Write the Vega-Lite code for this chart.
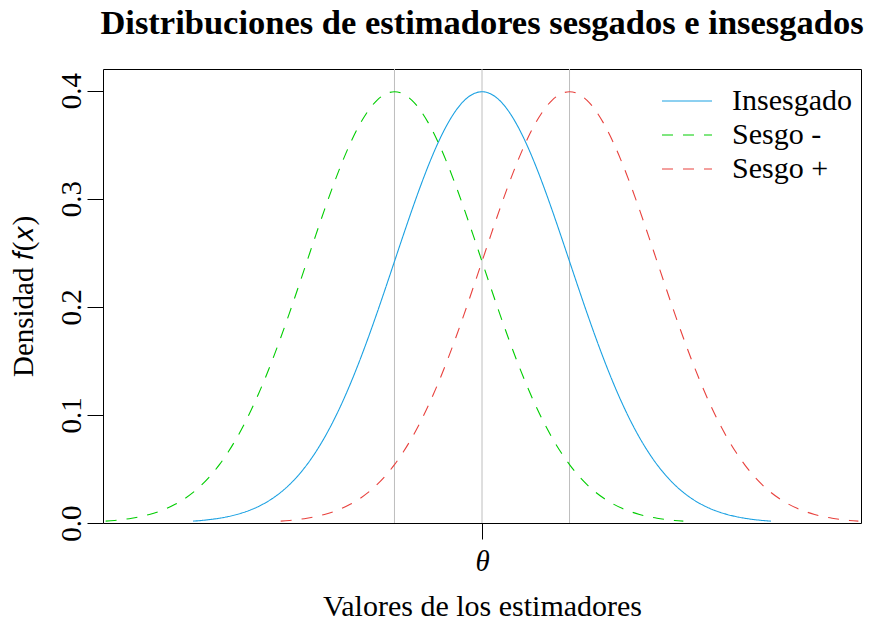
{
  "$schema": "https://vega.github.io/schema/vega-lite/v6.json",
  "width": 758,
  "height": 454,
  "autosize": {"type": "none"},
  "padding": {"left": 103, "top": 69, "right": 21, "bottom": 98},
  "background": "white",
  "config": {
    "font": "Liberation Serif",
    "view": {"stroke": "#000000", "strokeWidth": 1},
    "axis": {"domain": false, "grid": false, "tickColor": "#000000", "tickWidth": 1, "tickSize": 16, "labelColor": "#000000", "titleColor": "#000000", "labelFont": "Liberation Serif", "titleFont": "Liberation Serif", "labelFontSize": 29, "titleFontSize": 29, "titleFontWeight": "normal"},
    "legend": {"title": null, "symbolType": "M-2,0H2", "symbolSize": 625, "symbolStrokeWidth": 1, "labelFontSize": 30, "labelColor": "#000000", "labelFont": "Liberation Serif", "labelOffset": 30, "rowPadding": 4, "padding": 0}
  },
  "title": {"text": "Distribuciones de estimadores sesgados e insesgados", "font": "Liberation Serif", "fontSize": 34.5, "fontWeight": "bold", "color": "#000000", "anchor": "middle", "baseline": "alphabetic", "offset": 0},
  "datasets": {
    "rules": [{"x": -1}, {"x": 0}, {"x": 1}],
    "curves": [
      {"s":"Insesgado","x":-3.3,"y":0.00172},{"s":"Insesgado","x":-3.2,"y":0.00238},{"s":"Insesgado","x":-3.1,"y":0.00327},{"s":"Insesgado","x":-3.0,"y":0.00443},{"s":"Insesgado","x":-2.9,"y":0.00595},{"s":"Insesgado","x":-2.8,"y":0.00792},{"s":"Insesgado","x":-2.7,"y":0.01042},{"s":"Insesgado","x":-2.6,"y":0.01358},{"s":"Insesgado","x":-2.5,"y":0.01753},{"s":"Insesgado","x":-2.4,"y":0.02239},{"s":"Insesgado","x":-2.3,"y":0.02833},{"s":"Insesgado","x":-2.2,"y":0.03547},{"s":"Insesgado","x":-2.1,"y":0.04398},{"s":"Insesgado","x":-2.0,"y":0.05399},{"s":"Insesgado","x":-1.9,"y":0.06562},{"s":"Insesgado","x":-1.8,"y":0.07895},{"s":"Insesgado","x":-1.7,"y":0.09405},{"s":"Insesgado","x":-1.6,"y":0.11092},{"s":"Insesgado","x":-1.5,"y":0.12952},{"s":"Insesgado","x":-1.4,"y":0.14973},{"s":"Insesgado","x":-1.3,"y":0.17137},{"s":"Insesgado","x":-1.2,"y":0.19419},{"s":"Insesgado","x":-1.1,"y":0.21785},{"s":"Insesgado","x":-1.0,"y":0.24197},{"s":"Insesgado","x":-0.9,"y":0.26609},{"s":"Insesgado","x":-0.8,"y":0.28969},{"s":"Insesgado","x":-0.7,"y":0.31225},{"s":"Insesgado","x":-0.6,"y":0.33322},{"s":"Insesgado","x":-0.5,"y":0.35207},{"s":"Insesgado","x":-0.4,"y":0.36827},{"s":"Insesgado","x":-0.3,"y":0.38139},{"s":"Insesgado","x":-0.2,"y":0.39104},{"s":"Insesgado","x":-0.1,"y":0.39695},{"s":"Insesgado","x":0.0,"y":0.39894},{"s":"Insesgado","x":0.1,"y":0.39695},{"s":"Insesgado","x":0.2,"y":0.39104},{"s":"Insesgado","x":0.3,"y":0.38139},{"s":"Insesgado","x":0.4,"y":0.36827},{"s":"Insesgado","x":0.5,"y":0.35207},{"s":"Insesgado","x":0.6,"y":0.33322},{"s":"Insesgado","x":0.7,"y":0.31225},{"s":"Insesgado","x":0.8,"y":0.28969},{"s":"Insesgado","x":0.9,"y":0.26609},{"s":"Insesgado","x":1.0,"y":0.24197},{"s":"Insesgado","x":1.1,"y":0.21785},{"s":"Insesgado","x":1.2,"y":0.19419},{"s":"Insesgado","x":1.3,"y":0.17137},{"s":"Insesgado","x":1.4,"y":0.14973},{"s":"Insesgado","x":1.5,"y":0.12952},{"s":"Insesgado","x":1.6,"y":0.11092},{"s":"Insesgado","x":1.7,"y":0.09405},{"s":"Insesgado","x":1.8,"y":0.07895},{"s":"Insesgado","x":1.9,"y":0.06562},{"s":"Insesgado","x":2.0,"y":0.05399},{"s":"Insesgado","x":2.1,"y":0.04398},{"s":"Insesgado","x":2.2,"y":0.03547},{"s":"Insesgado","x":2.3,"y":0.02833},{"s":"Insesgado","x":2.4,"y":0.02239},{"s":"Insesgado","x":2.5,"y":0.01753},{"s":"Insesgado","x":2.6,"y":0.01358},{"s":"Insesgado","x":2.7,"y":0.01042},{"s":"Insesgado","x":2.8,"y":0.00792},{"s":"Insesgado","x":2.9,"y":0.00595},{"s":"Insesgado","x":3.0,"y":0.00443},{"s":"Insesgado","x":3.1,"y":0.00327},{"s":"Insesgado","x":3.2,"y":0.00238},{"s":"Insesgado","x":3.3,"y":0.00172},
      {"s":"Sesgo -","x":-4.3,"y":0.00172},{"s":"Sesgo -","x":-4.2,"y":0.00238},{"s":"Sesgo -","x":-4.1,"y":0.00327},{"s":"Sesgo -","x":-4.0,"y":0.00443},{"s":"Sesgo -","x":-3.9,"y":0.00595},{"s":"Sesgo -","x":-3.8,"y":0.00792},{"s":"Sesgo -","x":-3.7,"y":0.01042},{"s":"Sesgo -","x":-3.6,"y":0.01358},{"s":"Sesgo -","x":-3.5,"y":0.01753},{"s":"Sesgo -","x":-3.4,"y":0.02239},{"s":"Sesgo -","x":-3.3,"y":0.02833},{"s":"Sesgo -","x":-3.2,"y":0.03547},{"s":"Sesgo -","x":-3.1,"y":0.04398},{"s":"Sesgo -","x":-3.0,"y":0.05399},{"s":"Sesgo -","x":-2.9,"y":0.06562},{"s":"Sesgo -","x":-2.8,"y":0.07895},{"s":"Sesgo -","x":-2.7,"y":0.09405},{"s":"Sesgo -","x":-2.6,"y":0.11092},{"s":"Sesgo -","x":-2.5,"y":0.12952},{"s":"Sesgo -","x":-2.4,"y":0.14973},{"s":"Sesgo -","x":-2.3,"y":0.17137},{"s":"Sesgo -","x":-2.2,"y":0.19419},{"s":"Sesgo -","x":-2.1,"y":0.21785},{"s":"Sesgo -","x":-2.0,"y":0.24197},{"s":"Sesgo -","x":-1.9,"y":0.26609},{"s":"Sesgo -","x":-1.8,"y":0.28969},{"s":"Sesgo -","x":-1.7,"y":0.31225},{"s":"Sesgo -","x":-1.6,"y":0.33322},{"s":"Sesgo -","x":-1.5,"y":0.35207},{"s":"Sesgo -","x":-1.4,"y":0.36827},{"s":"Sesgo -","x":-1.3,"y":0.38139},{"s":"Sesgo -","x":-1.2,"y":0.39104},{"s":"Sesgo -","x":-1.1,"y":0.39695},{"s":"Sesgo -","x":-1.0,"y":0.39894},{"s":"Sesgo -","x":-0.9,"y":0.39695},{"s":"Sesgo -","x":-0.8,"y":0.39104},{"s":"Sesgo -","x":-0.7,"y":0.38139},{"s":"Sesgo -","x":-0.6,"y":0.36827},{"s":"Sesgo -","x":-0.5,"y":0.35207},{"s":"Sesgo -","x":-0.4,"y":0.33322},{"s":"Sesgo -","x":-0.3,"y":0.31225},{"s":"Sesgo -","x":-0.2,"y":0.28969},{"s":"Sesgo -","x":-0.1,"y":0.26609},{"s":"Sesgo -","x":0.0,"y":0.24197},{"s":"Sesgo -","x":0.1,"y":0.21785},{"s":"Sesgo -","x":0.2,"y":0.19419},{"s":"Sesgo -","x":0.3,"y":0.17137},{"s":"Sesgo -","x":0.4,"y":0.14973},{"s":"Sesgo -","x":0.5,"y":0.12952},{"s":"Sesgo -","x":0.6,"y":0.11092},{"s":"Sesgo -","x":0.7,"y":0.09405},{"s":"Sesgo -","x":0.8,"y":0.07895},{"s":"Sesgo -","x":0.9,"y":0.06562},{"s":"Sesgo -","x":1.0,"y":0.05399},{"s":"Sesgo -","x":1.1,"y":0.04398},{"s":"Sesgo -","x":1.2,"y":0.03547},{"s":"Sesgo -","x":1.3,"y":0.02833},{"s":"Sesgo -","x":1.4,"y":0.02239},{"s":"Sesgo -","x":1.5,"y":0.01753},{"s":"Sesgo -","x":1.6,"y":0.01358},{"s":"Sesgo -","x":1.7,"y":0.01042},{"s":"Sesgo -","x":1.8,"y":0.00792},{"s":"Sesgo -","x":1.9,"y":0.00595},{"s":"Sesgo -","x":2.0,"y":0.00443},{"s":"Sesgo -","x":2.1,"y":0.00327},{"s":"Sesgo -","x":2.2,"y":0.00238},{"s":"Sesgo -","x":2.3,"y":0.00172},
      {"s":"Sesgo +","x":-2.3,"y":0.00172},{"s":"Sesgo +","x":-2.2,"y":0.00238},{"s":"Sesgo +","x":-2.1,"y":0.00327},{"s":"Sesgo +","x":-2.0,"y":0.00443},{"s":"Sesgo +","x":-1.9,"y":0.00595},{"s":"Sesgo +","x":-1.8,"y":0.00792},{"s":"Sesgo +","x":-1.7,"y":0.01042},{"s":"Sesgo +","x":-1.6,"y":0.01358},{"s":"Sesgo +","x":-1.5,"y":0.01753},{"s":"Sesgo +","x":-1.4,"y":0.02239},{"s":"Sesgo +","x":-1.3,"y":0.02833},{"s":"Sesgo +","x":-1.2,"y":0.03547},{"s":"Sesgo +","x":-1.1,"y":0.04398},{"s":"Sesgo +","x":-1.0,"y":0.05399},{"s":"Sesgo +","x":-0.9,"y":0.06562},{"s":"Sesgo +","x":-0.8,"y":0.07895},{"s":"Sesgo +","x":-0.7,"y":0.09405},{"s":"Sesgo +","x":-0.6,"y":0.11092},{"s":"Sesgo +","x":-0.5,"y":0.12952},{"s":"Sesgo +","x":-0.4,"y":0.14973},{"s":"Sesgo +","x":-0.3,"y":0.17137},{"s":"Sesgo +","x":-0.2,"y":0.19419},{"s":"Sesgo +","x":-0.1,"y":0.21785},{"s":"Sesgo +","x":0.0,"y":0.24197},{"s":"Sesgo +","x":0.1,"y":0.26609},{"s":"Sesgo +","x":0.2,"y":0.28969},{"s":"Sesgo +","x":0.3,"y":0.31225},{"s":"Sesgo +","x":0.4,"y":0.33322},{"s":"Sesgo +","x":0.5,"y":0.35207},{"s":"Sesgo +","x":0.6,"y":0.36827},{"s":"Sesgo +","x":0.7,"y":0.38139},{"s":"Sesgo +","x":0.8,"y":0.39104},{"s":"Sesgo +","x":0.9,"y":0.39695},{"s":"Sesgo +","x":1.0,"y":0.39894},{"s":"Sesgo +","x":1.1,"y":0.39695},{"s":"Sesgo +","x":1.2,"y":0.39104},{"s":"Sesgo +","x":1.3,"y":0.38139},{"s":"Sesgo +","x":1.4,"y":0.36827},{"s":"Sesgo +","x":1.5,"y":0.35207},{"s":"Sesgo +","x":1.6,"y":0.33322},{"s":"Sesgo +","x":1.7,"y":0.31225},{"s":"Sesgo +","x":1.8,"y":0.28969},{"s":"Sesgo +","x":1.9,"y":0.26609},{"s":"Sesgo +","x":2.0,"y":0.24197},{"s":"Sesgo +","x":2.1,"y":0.21785},{"s":"Sesgo +","x":2.2,"y":0.19419},{"s":"Sesgo +","x":2.3,"y":0.17137},{"s":"Sesgo +","x":2.4,"y":0.14973},{"s":"Sesgo +","x":2.5,"y":0.12952},{"s":"Sesgo +","x":2.6,"y":0.11092},{"s":"Sesgo +","x":2.7,"y":0.09405},{"s":"Sesgo +","x":2.8,"y":0.07895},{"s":"Sesgo +","x":2.9,"y":0.06562},{"s":"Sesgo +","x":3.0,"y":0.05399},{"s":"Sesgo +","x":3.1,"y":0.04398},{"s":"Sesgo +","x":3.2,"y":0.03547},{"s":"Sesgo +","x":3.3,"y":0.02833},{"s":"Sesgo +","x":3.4,"y":0.02239},{"s":"Sesgo +","x":3.5,"y":0.01753},{"s":"Sesgo +","x":3.6,"y":0.01358},{"s":"Sesgo +","x":3.7,"y":0.01042},{"s":"Sesgo +","x":3.8,"y":0.00792},{"s":"Sesgo +","x":3.9,"y":0.00595},{"s":"Sesgo +","x":4.0,"y":0.00443},{"s":"Sesgo +","x":4.1,"y":0.00327},{"s":"Sesgo +","x":4.2,"y":0.00238},{"s":"Sesgo +","x":4.3,"y":0.00172}
    ]
  },
  "encoding": {
    "x": {"field": "x", "type": "quantitative", "scale": {"domain": [-4.33, 4.33], "nice": false, "zero": false},
      "axis": {"values": [0], "labelExpr": "'θ'", "labelFontStyle": "italic", "labelBaseline": "alphabetic", "labelPadding": 31, "title": "Valores de los estimadores", "titleFontSize": 30, "titleBaseline": "alphabetic", "titleX": 379, "titleY": 92, "titleAnchor": null}}
  },
  "layer": [
    {"data": {"name": "rules"}, "mark": {"type": "rule", "color": "#BEBEBE", "strokeWidth": 1}},
    {"data": {"name": "curves"}, "mark": {"type": "line", "strokeWidth": 1.1, "interpolate": "monotone"},
      "encoding": {
        "y": {"field": "y", "type": "quantitative", "scale": {"domain": [0, 0.42], "nice": false, "zero": false},
          "axis": {"values": [0, 0.1, 0.2, 0.3, 0.4], "format": ".1f", "labelAngle": -90, "labelAlign": "center", "labelBaseline": "alphabetic", "labelPadding": 7, "title": "Densidad 𝑓(𝑥)", "titleAngle": -90, "titleBaseline": "alphabetic", "titleAlign": "center", "titleX": -71, "titleY": 227}},
        "color": {"field": "s", "type": "nominal", "scale": {"domain": ["Insesgado", "Sesgo -", "Sesgo +"], "range": ["#1BA1E2", "#00CD00", "#E8413D"]},
          "legend": {"orient": "none", "legendX": 569, "legendY": 17}},
        "strokeDash": {"field": "s", "type": "nominal", "scale": {"domain": ["Insesgado", "Sesgo -", "Sesgo +"], "range": [[1, 0], [11, 10], [11, 10]]}, "legend": {"orient": "none", "legendX": 569, "legendY": 17}}
      }
    }
  ]
}
